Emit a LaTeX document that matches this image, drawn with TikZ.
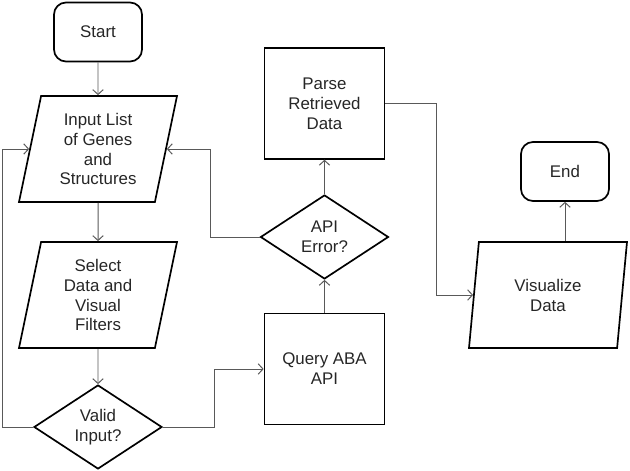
\documentclass[tikz,border=0pt]{standalone}
\usepackage{fontspec}
\setmainfont{Liberation Sans}
\usetikzlibrary{positioning,shapes.geometric,arrows.meta}

\begin{document}
\begin{tikzpicture}[x=0.25mm,y=-0.25mm,
		box/.style={draw,line width=1.2pt,align=center,inner sep=0pt,text=black!85,font=\fontsize{12}{14.2}\selectfont},
		term/.style={box,rounded corners=3mm,minimum width=22mm,minimum height=14.75mm},
		proc/.style={box,minimum width=30mm,minimum height=27.7mm},
		io/.style={box,trapezium,trapezium left angle=73,trapezium right angle=107,trapezium stretches body,minimum width=39.5mm,minimum height=26.5mm},
		dec/.style={box,diamond,minimum width=32mm,minimum height=21mm},
		flow/.style={draw=black!65,line width=0.7pt,-{Straight Barb[length=1.2mm,width=2.6mm]}}]
	\useasboundingbox (0,0) rectangle (630,471);
	
	\node[term] (start) at (98,32) {Start};
	\node[io] (input) at (98,149) {Input List\\of Genes\\and\\Structures};
	\node[io] (select) at (98,295) {Select\\Data and\\Visual\\Filters};
	\node[dec] (valid) at (98,427) {Valid\\Input?};
	\node[proc] (query) at (324.5,369) {Query ABA\\API};
	\node[dec] (apierr) at (324.5,237) {API\\Error?};
	\node[proc] (parse) at (324.5,103.5) {Parse\\Retrieved\\Data};
	\node[io] (vis) at (548,295) {Visualize\\Data};
	\node[term] (end) at (565,171.5) {End};
	
	\draw[flow] (start) -- (input);
	\draw[flow] (input) -- (select);
	\draw[flow] (select) -- (valid);
	\draw[flow] (valid.west) -- ++(-31,0) |- (input);
	\draw[flow] (valid.east) -- ++(52,0) |- (query.west);
	\draw[flow] (query) -- (apierr);
	\draw[flow] (apierr) -- (parse);
	\draw[flow] (apierr.west) -- ++(-49,0) |- (input);
	\draw[flow] (parse.east) -- ++(51,0) |- (vis);
	\draw[flow] (end.south |- vis.north) -- (end);
\end{tikzpicture}
\end{document}
